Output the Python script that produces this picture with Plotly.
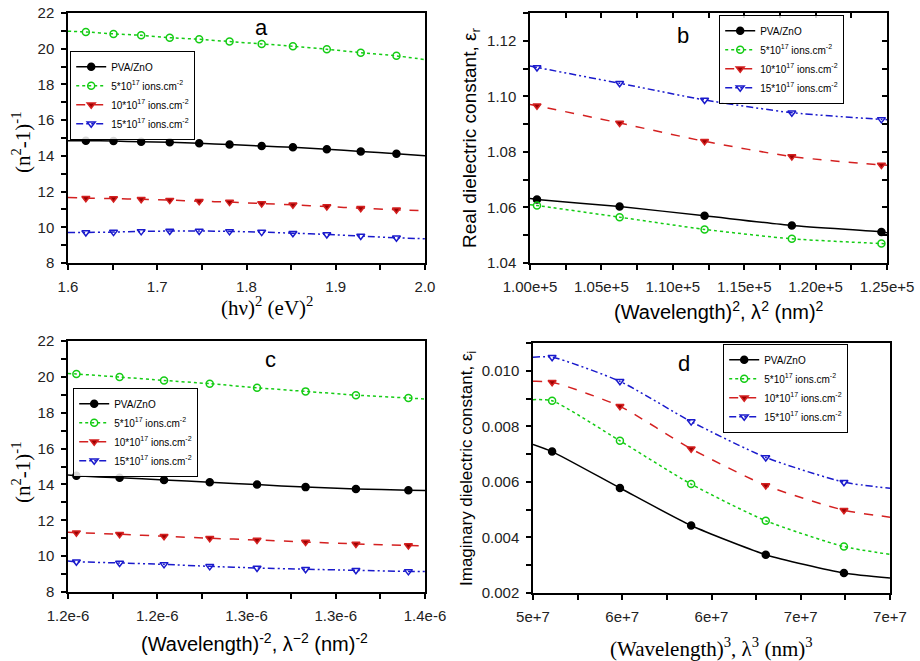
import plotly.graph_objects as go

# ---------------- data ----------------
SERIES = ["PVA/ZnO", "5*10<sup>17</sup> ions.cm<sup>-2</sup>",
          "10*10<sup>17</sup> ions.cm<sup>-2</sup>", "15*10<sup>17</sup> ions.cm<sup>-2</sup>"]

# panel a : (hv)^2 vs (n^2-1)^-1
A_X = [1.620, 1.651, 1.682, 1.714, 1.747, 1.781, 1.817, 1.852, 1.890, 1.928, 1.968]
A_EDGE_X = [1.6, 2.0]
A_PVA = [14.85, 14.83, 14.79, 14.76, 14.70, 14.63, 14.55, 14.48, 14.37, 14.25, 14.12]
A_PVA_EDGE = [14.85, 14.01]
A_5 = [20.94, 20.83, 20.75, 20.62, 20.53, 20.40, 20.27, 20.14, 19.97, 19.78, 19.60]
A_5_EDGE = [20.98, 19.39]
A_10 = [11.63, 11.61, 11.57, 11.52, 11.46, 11.41, 11.33, 11.26, 11.16, 11.07, 10.98]
A_10_EDGE = [11.67, 10.92]
A_15 = [9.71, 9.73, 9.77, 9.79, 9.79, 9.77, 9.73, 9.67, 9.60, 9.51, 9.41]
A_15_EDGE = [9.71, 9.36]

# panel b : lambda^2 vs real dielectric constant
B_X = [100489, 106276, 112225, 118336, 124609]
B_EDGE_X = [100000, 125000]
B_PVA = [1.0629, 1.0603, 1.0570, 1.0535, 1.0512]
B_PVA_EDGE = [1.0632, 1.0509]
B_5 = [1.0607, 1.0565, 1.0521, 1.0487, 1.0470]
B_5_EDGE = [1.0610, 1.0469]
B_10 = [1.0966, 1.0904, 1.0838, 1.0783, 1.0753]
B_10_EDGE = [1.0971, 1.0752]
B_15 = [1.1104, 1.1047, 1.0987, 1.0941, 1.0917]
B_15_EDGE = [1.1109, 1.0916]

# panel c : lambda^-2 vs (n^2-1)^-1
C_X = [1.2047e-6, 1.2289e-6, 1.2538e-6, 1.2794e-6, 1.3059e-6, 1.3331e-6, 1.3613e-6, 1.3907e-6]
C_EDGE_X = [1.2e-6, 1.4e-6]
C_PVA = [14.48, 14.37, 14.25, 14.12, 13.99, 13.85, 13.75, 13.68]
C_PVA_EDGE = [14.52, 13.66]
C_5 = [20.16, 19.99, 19.80, 19.62, 19.39, 19.19, 18.98, 18.82]
C_5_EDGE = [20.19, 18.76]
C_10 = [11.31, 11.22, 11.11, 11.00, 10.90, 10.79, 10.68, 10.59]
C_10_EDGE = [11.33, 10.57]
C_15 = [9.69, 9.62, 9.54, 9.43, 9.34, 9.27, 9.21, 9.15]
C_15_EDGE = [9.73, 9.15]
C_TICKVALS = [1.20e-6, 1.25e-6, 1.30e-6, 1.35e-6, 1.40e-6]
C_TICKTEXT = ["1.2e-6", "1.2e-6", "1.3e-6", "1.3e-6", "1.4e-6"]

# panel d : lambda^3 vs imaginary dielectric constant
D_X = [5.107e7, 5.487e7, 5.886e7, 6.304e7, 6.742e7]
D_EDGE_X = [5.0e7, 7.0e7]
D_PVA = [0.00709, 0.00578, 0.00443, 0.00338, 0.00272]
D_PVA_EDGE = [0.00735, 0.00254]
D_5 = [0.00892, 0.00748, 0.00592, 0.00460, 0.00367]
D_5_EDGE = [0.00896, 0.00339]
D_10 = [0.00959, 0.00872, 0.00719, 0.00587, 0.00498]
D_10_EDGE = [0.00962, 0.00473]
D_15 = [0.01049, 0.00962, 0.00817, 0.00688, 0.00599]
D_15_EDGE = [0.01049, 0.00577]
D_TICKVALS = [5.0e7, 5.5e7, 6.0e7, 6.5e7, 7.0e7]
D_TICKTEXT = ["5e+7", "6e+7", "6e+7", "7e+7", "7e+7"]

# ---------------- styles ----------------
STYLES = [
    dict(color="black", dash="solid", symbol="circle", mcolor="black", mline="black"),
    dict(color="#14cc14", dash="dot", symbol="circle-open", mcolor="#14cc14", mline="#14cc14"),
    dict(color="#d42020", dash="dash", symbol="triangle-down", mcolor="#9a0000", mline="#d42020"),
    dict(color="#1a1acc", dash="7px,3px,2px,3px,2px,3px", symbol="triangle-down-open",
         mcolor="#1a1acc", mline="#1a1acc"),
]

SANS = "Liberation Sans, Arial, sans-serif"
SERIF = "Liberation Serif, Times New Roman, serif"

fig = go.Figure()

PANELS = [
    ("x", "y", "legend", A_X, A_EDGE_X, [(A_PVA, A_PVA_EDGE), (A_5, A_5_EDGE), (A_10, A_10_EDGE), (A_15, A_15_EDGE)]),
    ("x2", "y2", "legend2", B_X, B_EDGE_X, [(B_PVA, B_PVA_EDGE), (B_5, B_5_EDGE), (B_10, B_10_EDGE), (B_15, B_15_EDGE)]),
    ("x3", "y3", "legend3", C_X, C_EDGE_X, [(C_PVA, C_PVA_EDGE), (C_5, C_5_EDGE), (C_10, C_10_EDGE), (C_15, C_15_EDGE)]),
    ("x4", "y4", "legend4", D_X, D_EDGE_X, [(D_PVA, D_PVA_EDGE), (D_5, D_5_EDGE), (D_10, D_10_EDGE), (D_15, D_15_EDGE)]),
]

for xa, ya, leg, xs, ex, series in PANELS:
    for i, (ys, ey) in enumerate(series):
        st = STYLES[i]
        lx = [ex[0]] + list(xs) + [ex[1]]
        ly = [ey[0]] + list(ys) + [ey[1]]
        fig.add_trace(go.Scatter(x=lx, y=ly, xaxis=xa, yaxis=ya, mode="lines",
                                 line=dict(color=st["color"], dash=st["dash"], width=1.5,
                                           shape="spline", smoothing=0.6),
                                 showlegend=False, hoverinfo="skip"))
        fig.add_trace(go.Scatter(x=xs, y=ys, xaxis=xa, yaxis=ya, mode="markers",
                                 marker=dict(symbol=st["symbol"], size=7, color=st["mcolor"],
                                             line=dict(color=st["mline"], width=1.5)),
                                 showlegend=False))
        fig.add_trace(go.Scatter(x=[None], y=[None], xaxis=xa, yaxis=ya, mode="lines+markers",
                                 name=SERIES[i], legend=leg,
                                 line=dict(color=st["color"], dash=st["dash"], width=1.5),
                                 marker=dict(symbol=st["symbol"], size=7, color=st["mcolor"],
                                             line=dict(color=st["mline"], width=1.5))))

W, H = 920, 661


def dom_x(l, r):
    return [l / W, r / W]


def dom_y(t, b):
    return [1 - b / H, 1 - t / H]


tickfont = dict(family=SANS, size=15, color="#222")
MINOR = dict(ticks="outside", ticklen=5, tickcolor="black", tickwidth=1.5)
common = dict(showline=True, linecolor="black", linewidth=1.5, mirror=True, ticks="outside",
              ticklen=5, tickwidth=1.5, tickcolor="black", showgrid=False, zeroline=False,
              tickfont=tickfont, ticklabelstandoff=4, automargin=False)

fig.update_layout(
    width=W, height=H, margin=dict(l=0, r=0, t=0, b=0, autoexpand=False),
    paper_bgcolor="white", plot_bgcolor="white", showlegend=True,
    xaxis=dict(domain=dom_x(68, 425), range=[1.6, 2.0], dtick=0.1, tickformat=".1f",
               minor=dict(dtick=0.05, **MINOR), **common),
    yaxis=dict(domain=dom_y(13, 263), range=[8, 22], dtick=2,
               minor=dict(dtick=1, **MINOR), **common),
    xaxis2=dict(domain=dom_x(530, 887), range=[100000, 125000], dtick=5000, tickformat=".2e",
                minor=dict(dtick=2500, **MINOR), anchor="y2", **common),
    yaxis2=dict(domain=dom_y(13, 263), range=[1.04, 1.13], dtick=0.02, tickformat=".2f", anchor="x2",
                minor=dict(dtick=0.01, **MINOR), **common),
    xaxis3=dict(domain=dom_x(68, 425), range=[1.2e-6, 1.4e-6], tickvals=C_TICKVALS, ticktext=C_TICKTEXT,
                minor=dict(dtick=0.025e-6, tick0=1.2e-6, **MINOR), anchor="y3", **common),
    yaxis3=dict(domain=dom_y(341, 592), range=[8, 22], dtick=2, anchor="x3",
                minor=dict(dtick=1, **MINOR), **common),
    xaxis4=dict(domain=dom_x(533, 890), range=[5.0e7, 7.0e7], tickvals=D_TICKVALS, ticktext=D_TICKTEXT,
                minor=dict(dtick=2.5e6, tick0=5e7, **MINOR), anchor="y4", **common),
    yaxis4=dict(domain=dom_y(343, 593), range=[0.002, 0.011], dtick=0.002, tickformat=".3f", anchor="x4",
                minor=dict(dtick=0.001, **MINOR), **common),
    # inward ticks on top and right of panel b
    xaxis5=dict(domain=dom_x(530, 887), range=[100000, 125000], dtick=5000, overlaying="x2", side="top",
                anchor="y2", ticks="inside", ticklen=5, tickwidth=1.5, tickcolor="black", automargin=False,
                showticklabels=False, showgrid=False, zeroline=False, showline=False,
                minor=dict(dtick=2500, ticks="inside", ticklen=5, tickcolor="black", tickwidth=1.5)),
    yaxis5=dict(domain=dom_y(13, 263), range=[1.04, 1.13], dtick=0.02, overlaying="y2", side="right",
                anchor="x2", ticks="inside", ticklen=5, tickwidth=1.5, tickcolor="black", automargin=False,
                showticklabels=False, showgrid=False, zeroline=False, showline=False,
                minor=dict(dtick=0.01, ticks="inside", ticklen=5, tickcolor="black", tickwidth=1.5)),
)

legend_style = dict(bgcolor="rgba(255,255,255,0.85)", bordercolor="black", borderwidth=1.2,
                    font=dict(family=SANS, size=10, color="black"),
                    xanchor="left", yanchor="top", tracegroupgap=0, itemwidth=30)
fig.update_layout(
    legend=dict(x=70 / W, y=1 - 51 / H, **legend_style),
    legend2=dict(x=719 / W, y=1 - 15 / H, **legend_style),
    legend3=dict(x=73 / W, y=1 - 388 / H, **legend_style),
    legend4=dict(x=723 / W, y=1 - 344 / H, **legend_style),
)

# dummy trace anchoring overlay axes
fig.add_trace(go.Scatter(x=[None], y=[None], xaxis="x5", yaxis="y5", showlegend=False))

annotations = [
    # panel letters
    dict(text="a", x=261, y=28, size=22, font=SANS),
    dict(text="b", x=683, y=36, size=22, font=SANS),
    dict(text="c", x=270, y=359, size=22, font=SANS),
    dict(text="d", x=684, y=363, size=22, font=SANS),
    # axis titles
    dict(text="(hν)<sup>2</sup> (eV)<sup>2</sup>", x=267, y=306, size=21, font=SERIF),
    dict(text="(Wavelength)<sup>2</sup>, λ<sup>2</sup> (nm)<sup>2</sup>", x=719, y=311, size=20, font=SANS),
    dict(text="(Wavelength)<sup>-2</sup>, λ<sup>−2</sup> (nm)<sup>-2</sup>", x=254, y=642, size=20, font=SANS),
    dict(text="(Wavelength)<sup>3</sup>, λ<sup>3</sup> (nm)<sup>3</sup>", x=711, y=647, size=21, font=SERIF),
    dict(text="(n<sup>2</sup>-1)<sup>-1</sup>", x=21, y=142, size=21, font=SERIF, angle=-90),
    dict(text="(n<sup>2</sup>-1)<sup>-1</sup>", x=21, y=472, size=21, font=SERIF, angle=-90),
    dict(text="Real dielectric constant, ε<sub>r</sub>", x=471, y=138, size=19, font=SANS, angle=-90),
    dict(text="Imaginary dielectric constant, ε<sub>i</sub>", x=468, y=468, size=17, font=SANS, angle=-90),
]
for a in annotations:
    fig.add_annotation(text=a["text"], x=a["x"] / W, y=1 - a["y"] / H, xref="paper", yref="paper",
                       showarrow=False, xanchor="center", yanchor="middle", textangle=a.get("angle", 0),
                       font=dict(family=a["font"], size=a["size"], color="black"))

fig.write_html("out.html")
